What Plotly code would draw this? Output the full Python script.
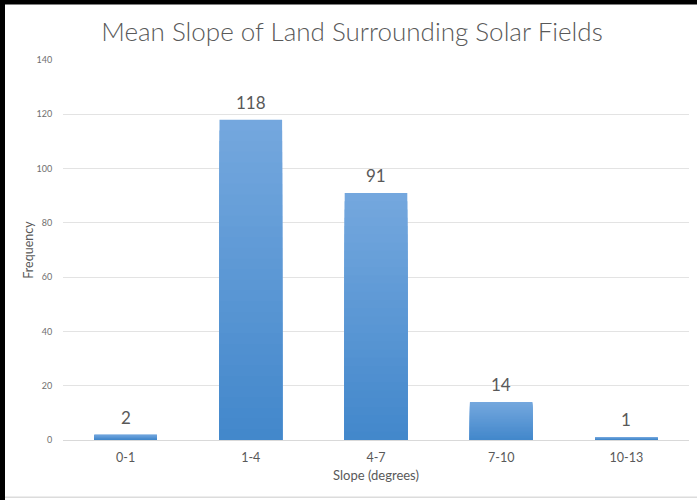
import plotly.graph_objects as go

# Frequency of mean slope values around solar fields
slope_bins = ["0-1", "1-4", "4-7", "7-10", "10-13"]
frequency = [2, 118, 91, 14, 1]
y_ticks = [0, 20, 40, 60, 80, 100, 120, 140]

TEXT = "#595959"
FONT = "Lato"
TOP_RGB = (117, 168, 222)
BOTTOM_RGB = (66, 135, 203)
STEPS = 30

fig = go.Figure()

# Each bar fades from a darker base to a lighter top, relative to its own
# height: progressively shorter bars in darker shades are laid over one another.
for k in range(STEPS):
    frac = (STEPS - k) / STEPS
    t = (STEPS - k - 0.5) / STEPS
    rgb = tuple(round(b + (a - b) * t) for a, b in zip(TOP_RGB, BOTTOM_RGB))
    fig.add_trace(go.Bar(
        x=slope_bins,
        y=[v * frac for v in frequency],
        marker=dict(color="rgb(%d,%d,%d)" % rgb, line=dict(width=0)),
        hoverinfo="skip",
        showlegend=False,
    ))

# Value labels above each bar
for cat, val in zip(slope_bins, frequency):
    fig.add_annotation(
        x=cat, y=val, text=str(val), showarrow=False,
        yanchor="bottom", yshift=5,
        font=dict(family=FONT, size=17, color=TEXT),
    )

# Frame edges: black on the left and top, light grey along the bottom
fig.add_shape(type="rect", xref="paper", yref="paper", layer="above",
              x0=-63 / 626, x1=-58 / 626, y0=-60 / 380, y1=1 + 60 / 380,
              fillcolor="black", line=dict(width=0))
fig.add_shape(type="rect", xref="paper", yref="paper", layer="above",
              x0=-63 / 626, x1=1 + 8 / 626, y0=1 + 55.5 / 380, y1=1 + 60 / 380,
              fillcolor="black", line=dict(width=0))
fig.add_shape(type="rect", xref="paper", yref="paper", layer="above",
              x0=-58 / 626, x1=1 + 8 / 626, y0=-58 / 380, y1=-56.5 / 380,
              fillcolor="#dcdcdc", line=dict(width=0))

fig.update_layout(
    width=697, height=500,
    margin=dict(l=63, r=8, t=60, b=60),
    paper_bgcolor="white", plot_bgcolor="white",
    barmode="overlay", bargap=0.5,
    title=dict(
        text="Mean Slope of Land Surrounding Solar Fields",
        x=0.505, xanchor="center", y=0.936, yanchor="middle",
        font=dict(family=FONT, size=26, color=TEXT, weight=300),
    ),
    font=dict(family=FONT, color=TEXT),
    xaxis=dict(
        title=dict(text="Slope (degrees)", font=dict(size=13, color=TEXT), standoff=6),
        tickfont=dict(size=12.5, color=TEXT),
        ticks="outside", ticklen=6, tickcolor="rgba(0,0,0,0)",
        showline=False, showgrid=False,
    ),
    yaxis=dict(
        title=dict(text="Frequency", font=dict(size=12.5, color=TEXT), standoff=0),
        range=[0, 140], tickvals=y_ticks,
        tickfont=dict(size=9, color="#6f6f6f"),
        showgrid=True, gridcolor="#e3e3e3", gridwidth=1,
        zeroline=True, zerolinecolor="#d9d9d9", zerolinewidth=1,
        ticks="outside", ticklen=8, tickcolor="rgba(0,0,0,0)",
        showline=False,
    ),
)

fig.write_html("out.html")
